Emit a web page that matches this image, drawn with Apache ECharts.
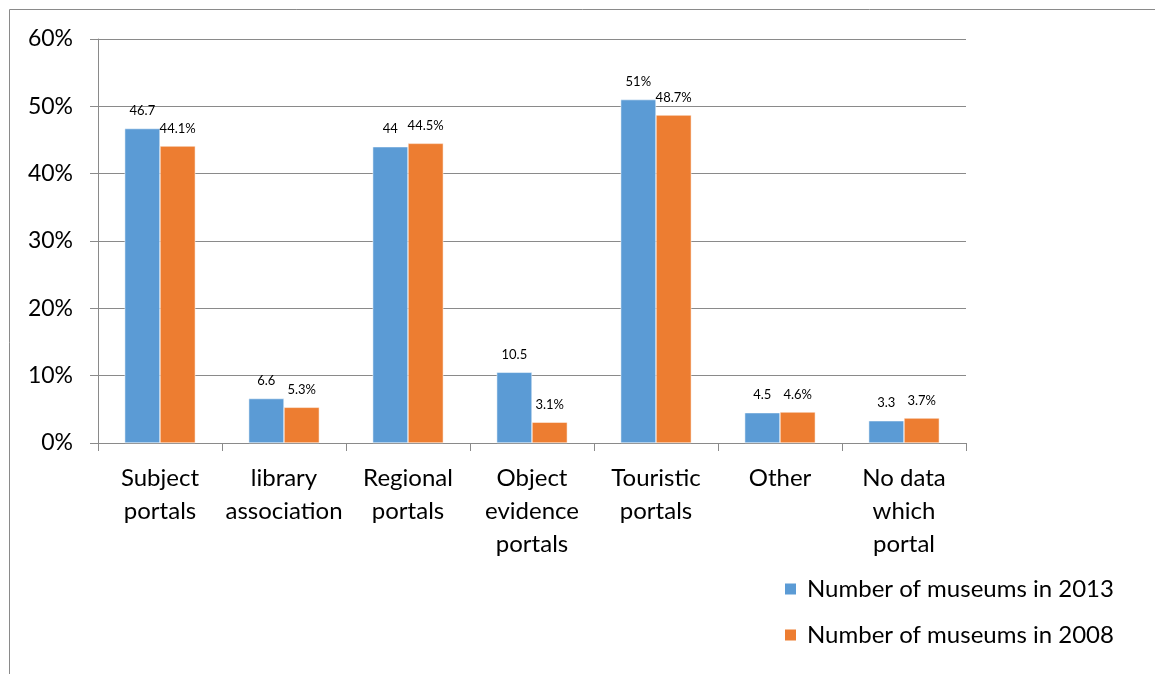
<!DOCTYPE html>
<html>
<head>
<meta charset="utf-8">
<script src="https://cdn.jsdelivr.net/npm/echarts@6/dist/echarts.min.js"></script>
<style>
  html, body { margin: 0; padding: 0; background: #fff; }
  #chart { width: 1155px; height: 674px; }
</style>
</head>
<body>
<div id="chart"></div>
<script>
// Share of museums by type of portal they appear on
const categories = [
  'Subject\nportals',
  'library\nassociation',
  'Regional\nportals',
  'Object\nevidence\nportals',
  'Touristic\nportals',
  'Other',
  'No data\nwhich\nportal'
];
const seriesNames = ['Number of museums in 2013', 'Number of museums in 2008'];
const values2013 = [46.7, 6.6, 44, 10.5, 51, 4.5, 3.3];
const values2008 = [44.1, 5.3, 44.5, 3.1, 48.7, 4.6, 3.7];
// unit suffix printed after each value label
const suffix2013 = ['', '', '', '', '%', '', ''];
const suffix2008 = ['%', '%', '%', '%', '%', '%', '%'];
const yTicks = [0, 10, 20, 30, 40, 50, 60];

const FONT = 'Lato, "Open Sans", sans-serif';
const GRID_GRAY = '#8a8a8a';
const TEXT = '#000';

function barLabel(suffixes) {
  return {
    show: true,
    position: 'top',
    distance: 11,
    fontFamily: FONT,
    fontSize: 13,
    color: TEXT,
    formatter: p => p.value + suffixes[p.dataIndex]
  };
}

const chart = echarts.init(document.getElementById('chart'), null, { renderer: 'canvas' });
chart.setOption({
  animation: false,
  backgroundColor: '#fff',
  textStyle: { fontFamily: FONT },
  graphic: [{
    type: 'rect',
    shape: { x: 9.5, y: 9.5, width: 1300, height: 800 },
    style: { fill: 'none', stroke: GRID_GRAY, lineWidth: 1 },
    silent: true
  }],
  grid: { left: 98, right: 189, top: 39, bottom: 231 },
  legend: {
    orient: 'vertical',
    left: 783,
    top: 576,
    padding: 0,
    itemWidth: 13,
    itemHeight: 13,
    itemGap: 20,
    icon: 'rect',
    textStyle: {
      fontFamily: FONT,
      fontSize: 24,
      lineHeight: 26,
      color: TEXT,
      padding: [0, 0, 0, 5]
    },
    data: seriesNames
  },
  xAxis: {
    type: 'category',
    data: categories,
    axisLine: { lineStyle: { color: GRID_GRAY, width: 1 } },
    axisTick: { show: true, length: 8, interval: 0, lineStyle: { color: GRID_GRAY } },
    axisLabel: {
      interval: 0,
      margin: 19,
      fontFamily: FONT,
      fontSize: 24,
      lineHeight: 33,
      color: TEXT
    }
  },
  yAxis: {
    type: 'value',
    min: yTicks[0],
    max: yTicks[yTicks.length - 1],
    interval: 10,
    axisLine: { show: true, lineStyle: { color: GRID_GRAY, width: 1 } },
    axisTick: { show: true, length: 8, lineStyle: { color: GRID_GRAY } },
    splitLine: { lineStyle: { color: GRID_GRAY, width: 1 } },
    axisLabel: {
      margin: 25,
      fontFamily: FONT,
      fontSize: 23,
      color: TEXT,
      formatter: '{value}%'
    }
  },
  series: [
    {
      name: seriesNames[0],
      type: 'bar',
      data: values2013,
      barGap: '0%',
      barCategoryGap: '43%',
      itemStyle: { color: '#5b9bd5', borderColor: '#fff', borderWidth: 0.5 },
      label: barLabel(suffix2013)
    },
    {
      name: seriesNames[1],
      type: 'bar',
      data: values2008,
      barGap: '0%',
      barCategoryGap: '43%',
      itemStyle: { color: '#ed7d31', borderColor: '#fff', borderWidth: 0.5 },
      label: barLabel(suffix2008)
    }
  ]
});
</script>
</body>
</html>
